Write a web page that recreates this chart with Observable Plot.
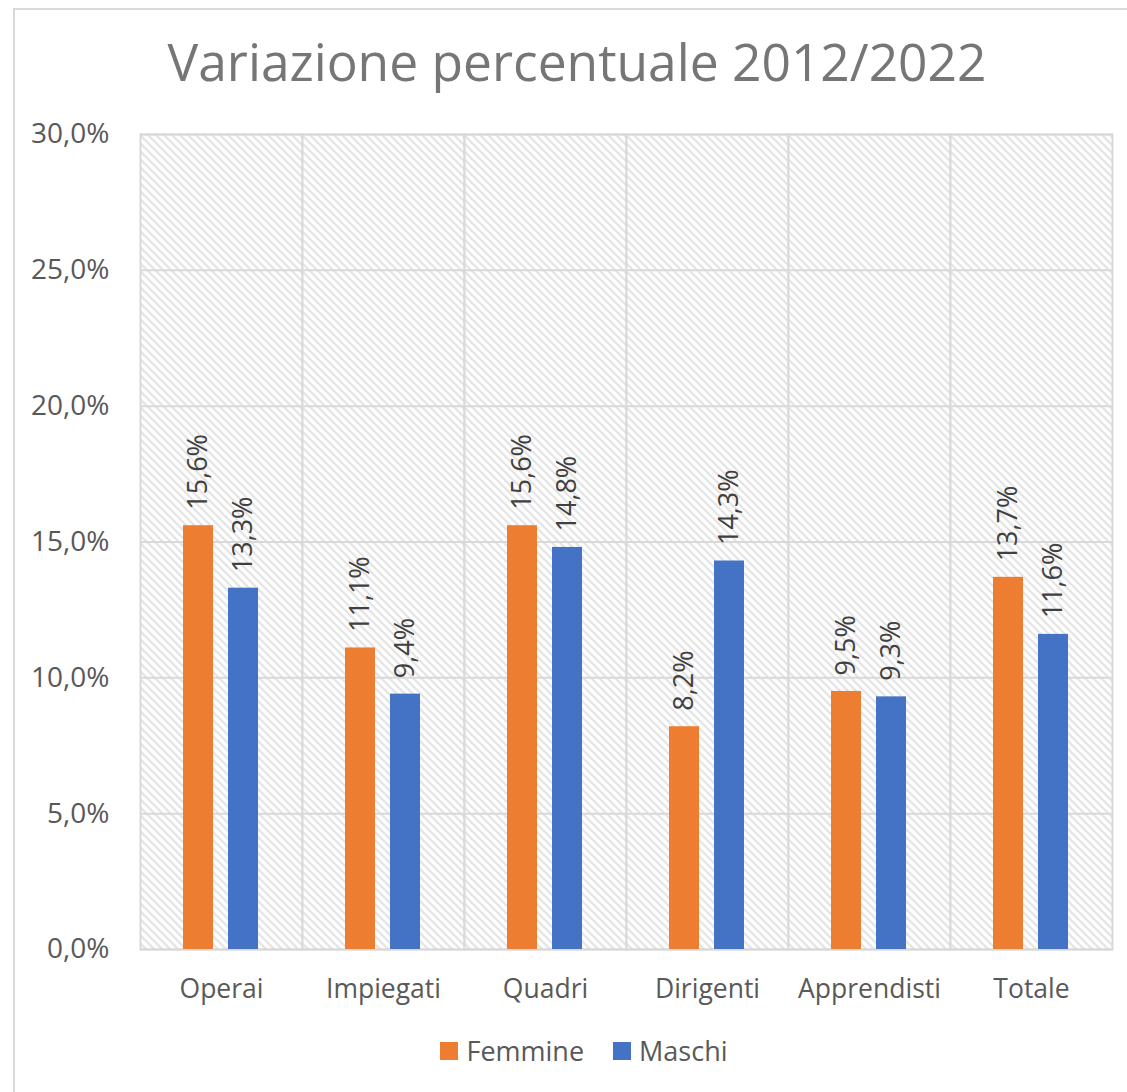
<!DOCTYPE html>
<html>
<head>
<meta charset="utf-8">
<script src="https://cdn.jsdelivr.net/npm/d3@7"></script>
<script src="https://cdn.jsdelivr.net/npm/@observablehq/plot@0.6"></script>
<style>
  html, body { margin: 0; padding: 0; background: #fff; overflow: hidden; }
  #page { position: relative; width: 1127px; height: 1092px; font-family: "Open Sans", sans-serif; }
  #border { position: absolute; left: 13px; top: 8px; width: 1300px; height: 1300px; border-left: 2px solid #d9d9d9; border-top: 2px solid #d9d9d9; box-sizing: border-box; }
  #title { position: absolute; left: 0; width: 1154px; top: 26px; text-align: center; font-size: 51.5px; color: #767676; white-space: nowrap; }
  #chart { position: absolute; left: 0; top: 100px; }
  #legend { position: absolute; left: 0; width: 1168px; top: 1032px; display: flex; justify-content: center; gap: 29px; font-size: 27px; color: #595959; }
  .item { display: flex; align-items: center; gap: 8px; }
  .sw { width: 18px; height: 18px; display: inline-block; }
</style>
</head>
<body>
<div id="page">
  <div id="border"></div>
  <div id="title">Variazione percentuale 2012/2022</div>
  <div id="chart"></div>
  <div id="legend"></div>
</div>
<script>
const categories = ["Operai", "Impiegati", "Quadri", "Dirigenti", "Apprendisti", "Totale"];
const femmine = [15.6, 11.1, 15.6, 8.2, 9.5, 13.7];
const maschi = [13.3, 9.4, 14.8, 14.3, 9.3, 11.6];
const series = ["Femmine", "Maschi"];
const seriesColors = ["#ED7D31", "#4472C4"];
const yTicks = [0, 5, 10, 15, 20, 25, 30];

const fmt = v => v.toFixed(1).replace(".", ",") + "%";

const data = categories.flatMap((c, i) => [
  {cat: c, serie: series[0], value: femmine[i]},
  {cat: c, serie: series[1], value: maschi[i]}
]);

const chart = Plot.plot({
  width: 1127,
  height: 920,
  marginLeft: 139,
  marginRight: 14,
  marginTop: 34,
  marginBottom: 71,
  style: {fontFamily: "Open Sans, sans-serif", fontSize: "26.5px", color: "#595959", background: "transparent", overflow: "visible"},
  fx: {domain: categories, paddingInner: 0, paddingOuter: 0, label: null, tickSize: 0, tickPadding: 30},
  x: {domain: series, paddingInner: 0.326, paddingOuter: 0.927, axis: null},
  y: {domain: [0, 30], label: null},
  color: {domain: series, range: seriesColors},
  marks: [
    Plot.frame({fill: "url(#hatch)", stroke: "#d9d9d9", strokeWidth: 2}),
    Plot.gridY(yTicks, {stroke: "#d9d9d9", strokeWidth: 2, strokeOpacity: 1}),
    Plot.axisY(yTicks, {tickFormat: fmt, tickSize: 0, tickPadding: 31, fontSize: 28, label: null}),
    Plot.barY(data, {fx: "cat", x: "serie", y: "value", fill: "serie"}),
    Plot.text(data, {fx: "cat", x: "serie", y: "value", text: d => fmt(d.value), rotate: -90, textAnchor: "start", dy: -16, fill: "#404040", fontSize: 27})
  ]
});

d3.select(chart).insert("defs", ":first-child").html(
  '<pattern id="hatch" patternUnits="userSpaceOnUse" width="8" height="8">' +
  '<rect width="8" height="8" fill="#ffffff"/>' +
  '<path d="M-2,-2 L10,10 M-2,6 L2,10 M6,-2 L10,2" stroke="#dcdcdc" stroke-width="1.8"/>' +
  '</pattern>'
);

document.getElementById("chart").appendChild(chart);

const legend = d3.select("#legend");
series.forEach((s, i) => {
  const it = legend.append("div").attr("class", "item");
  it.append("span").attr("class", "sw").style("background", seriesColors[i]);
  it.append("span").text(s);
});
</script>
</body>
</html>
